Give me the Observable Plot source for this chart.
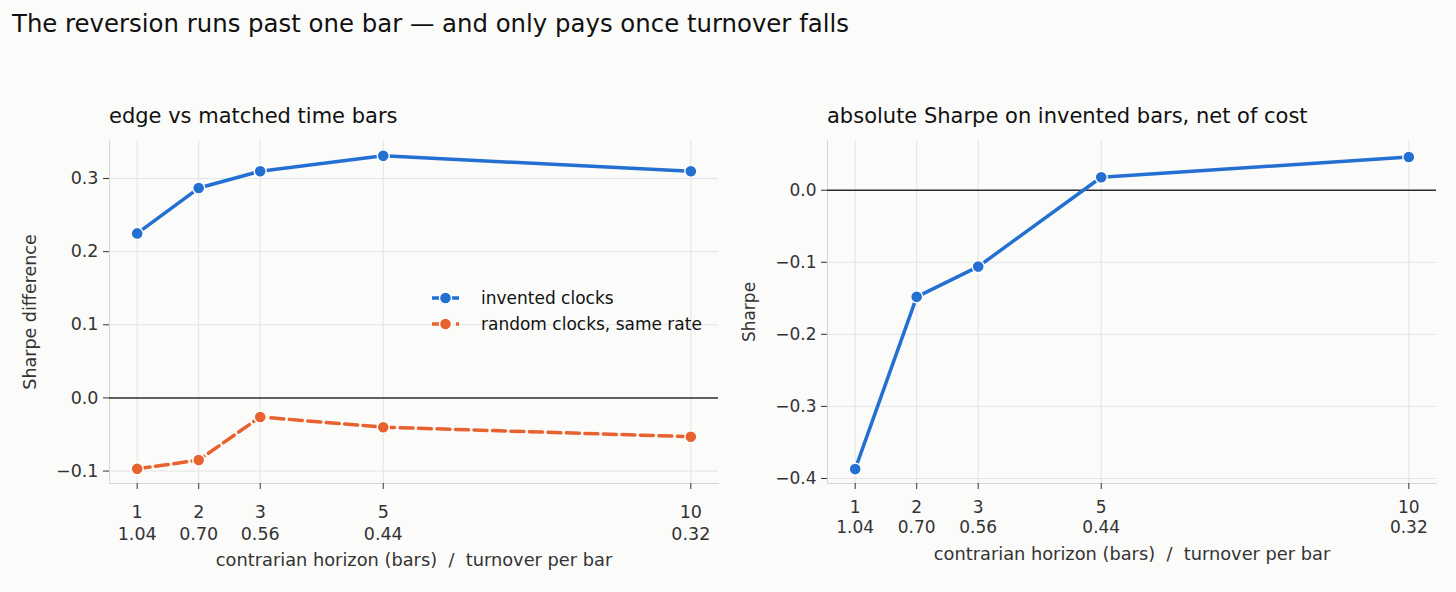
<!DOCTYPE html>
<html><head><meta charset="utf-8">
<script src="https://cdn.jsdelivr.net/npm/d3@7"></script>
<script src="https://cdn.jsdelivr.net/npm/@observablehq/plot@0.6"></script>
<style>
html,body{margin:0;padding:0;background:#fbfbfa;}
body{width:1456px;height:592px;position:relative;overflow:hidden;font-family:"DejaVu Sans",sans-serif;}
.abs{position:absolute;white-space:nowrap;}
#title{left:12px;top:9px;font-size:24.4px;color:#111;}
.ptitle{font-size:21px;color:#111;top:104px;}
#legend{left:432px;top:285px;font-size:17px;color:#111;}
.lrow{display:flex;align-items:center;height:26px;}
.lrow svg{margin-right:21px;}
</style></head><body>
<div id="title" class="abs">The reversion runs past one bar — and only pays once turnover falls</div>
<div class="abs ptitle" style="left:109px">edge vs matched time bars</div>
<div class="abs ptitle" style="left:827px">absolute Sharpe on invented bars, net of cost</div>
<div id="left" class="abs" style="left:0;top:130px"></div>
<div id="right" class="abs" style="left:728px;top:130px"></div>
<div id="legend" class="abs"></div>
<script>
// ---- data ----
const horizons = [1, 2, 3, 5, 10];
const turnover = ["1.04", "0.70", "0.56", "0.44", "0.32"];
const inventedEdge = [0.225, 0.287, 0.310, 0.331, 0.310];
const randomEdge = [-0.097, -0.085, -0.026, -0.040, -0.053];
const absSharpe = [-0.387, -0.148, -0.106, 0.018, 0.046];
const leftYTicks = [-0.1, 0.0, 0.1, 0.2, 0.3];
const rightYTicks = [-0.4, -0.3, -0.2, -0.1, 0.0];
const seriesNames = ["invented clocks", "random clocks, same rate"];

const BLUE = "#2470d2";
const ORANGE = "#e8622f";
const GRID = "#e3e3e3";
const SPINE = "#d6d6d6";
const DASH = "13,5.5";
const fmt = d3.format(".1f");
const xFmt = d => `${d}\n${turnover[horizons.indexOf(d)]}`;
const xLabel = "contrarian horizon (bars) \u00a0/\u00a0 turnover per bar";

const invRows = horizons.map((h, i) => ({h, v: inventedEdge[i]}));
const rndRows = horizons.map((h, i) => ({h, v: randomEdge[i]}));
const absRows = horizons.map((h, i) => ({h, v: absSharpe[i]}));

function panel({width, marginLeft, marginRight, yDomain, yTicks, yLabel, series, tickPad, lineHeight, labelOffX, labelOffY, tickFont}) {
  const marks = [
    Plot.gridX(horizons, {stroke: GRID, strokeOpacity: 1}),
    Plot.gridY(yTicks.filter(d => d !== 0), {stroke: GRID, strokeOpacity: 1}),
    Plot.frame({anchor: "left", stroke: SPINE}),
    Plot.frame({anchor: "bottom", stroke: SPINE}),
    Plot.ruleY([0], {stroke: "#2b2b2b", strokeWidth: 1.6}),
    Plot.axisY({ticks: yTicks, tickFormat: fmt, tickSize: 6, tickPadding: 5, color: "#333", fontSize: tickFont,
      label: yLabel, labelAnchor: "center", labelOffset: labelOffY, labelArrow: "none"}),
    Plot.axisX({ticks: horizons, tickFormat: xFmt, tickSize: 6, tickPadding: tickPad, lineHeight, color: "#333", fontSize: tickFont,
      label: null}),
    Plot.axisX({ticks: [], tickSize: 0, color: "#333", fontSize: 17.8,
      label: xLabel, labelAnchor: "center", labelOffset: labelOffX, labelArrow: "none"})
  ];
  for (const s of series) {
    marks.push(Plot.line(s.rows, {x: "h", y: "v", stroke: s.color, strokeWidth: 3.5, strokeDasharray: s.dash, strokeLinejoin: "round"}));
  }
  for (const s of series) {
    marks.push(Plot.dot(s.rows, {x: "h", y: "v", r: 6, fill: s.color, stroke: "white", strokeWidth: 1.4}));
  }
  return Plot.plot({
    width, height: 462,
    marginTop: 10, marginBottom: 109, marginLeft, marginRight,
    style: {background: "transparent", fontFamily: "DejaVu Sans", fontSize: "17.5px", color: "#333", overflow: "visible"},
    x: {type: "linear", domain: [0.55, 10.45]},
    y: {domain: yDomain},
    marks
  });
}

document.getElementById("left").append(panel({
  width: 728, marginLeft: 109, marginRight: 10,
  yDomain: [-0.117, 0.352], yTicks: leftYTicks, yLabel: "Sharpe difference",
  series: [{rows: invRows, color: BLUE, dash: null}, {rows: rndRows, color: ORANGE, dash: DASH}],
  tickPad: 13, lineHeight: 1.26, labelOffX: 82.5, labelOffY: 86, tickFont: 17.5
}));
document.getElementById("right").append(panel({
  width: 728, marginLeft: 99, marginRight: 20,
  yDomain: [-0.407, 0.069], yTicks: rightYTicks, yLabel: "Sharpe",
  series: [{rows: absRows, color: BLUE, dash: null}],
  tickPad: 9.5, lineHeight: 1.18, labelOffX: 76, labelOffY: 85, tickFont: 17
}));

// legend
const legend = document.getElementById("legend");
[[seriesNames[0], BLUE, null], [seriesNames[1], ORANGE, "8,4"]].forEach(([name, color, dash]) => {
  const row = document.createElement("div");
  row.className = "lrow";
  row.innerHTML = `<svg width="28" height="14"><line x1="0" x2="27" y1="7" y2="7" stroke="${color}" stroke-width="3.5" ${dash ? `stroke-dasharray="${dash}"` : ""}/><circle cx="13.5" cy="7" r="6" fill="${color}" stroke="white" stroke-width="1.4"/></svg><span>${name}</span>`;
  legend.append(row);
});
</script>
</body></html>
